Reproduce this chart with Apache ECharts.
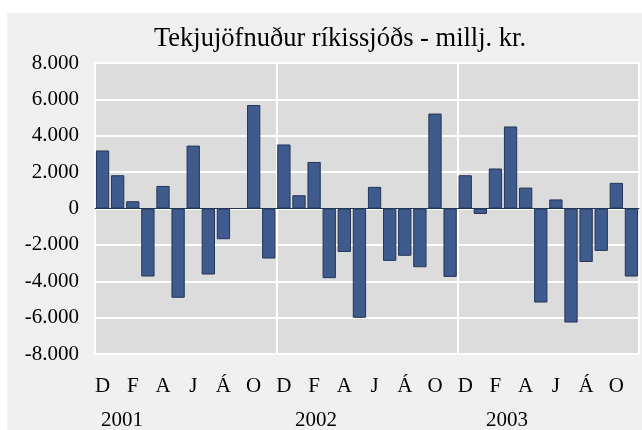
<!DOCTYPE html>
<html>
<head>
<meta charset="utf-8">
<script src="https://cdn.jsdelivr.net/npm/echarts@6/dist/echarts.min.js"></script>
<style>
  html, body { margin: 0; padding: 0; background: #ffffff; }
  #chart { position: absolute; left: 7px; top: 13px; width: 635px; height: 417px; }
</style>
</head>
<body>
<div id="chart"></div>
<script>
// Mánuðir frá desember 2000 til nóvember 2003
var manudir = ['D', 'J', 'F', 'M', 'A', 'M', 'J', 'J', 'Á', 'S', 'O', 'N'];
var categories = [].concat(manudir, manudir, manudir);
var ar = ['2001', '2002', '2003'];

// Tekjujöfnuður, millj. kr.
var gildi = [
  3190, 1830, 400, -3740, 1240, -4910, 3460, -3630, -1690, 0, 5690, -2750,
  3520, 730, 2560, -3830, -2390, -6010, 1190, -2880, -2600, -3230, 5220, -3760,
  1830, -300, 2200, 4510, 1150, -5170, 500, -6270, -2940, -2330, 1410, -3740
];

var yTicks = [-8000, -6000, -4000, -2000, 0, 2000, 4000, 6000, 8000];

var serif = '"Liberation Serif", "Times New Roman", serif';

var formatTala = function (v) {
  var s = Math.abs(v).toString().replace(/\B(?=(\d{3})+(?!\d))/g, '.');
  return (v < 0 ? '-' : '') + s;
};

var getOption = function () {
  return {
    backgroundColor: '#f0f0f0',
    animation: false,
    title: {
      text: 'Tekjujöfnuður ríkissjóðs - millj. kr.',
      left: 142,
      top: 8,
      textStyle: {
        fontFamily: serif,
        fontSize: 26.5,
        fontWeight: 'normal',
        color: '#000000'
      }
    },
    grid: {
      left: 88,
      right: 3,
      top: 50,
      bottom: 76,
      show: true,
      backgroundColor: '#dcdcdc',
      borderColor: '#ffffff',
      borderWidth: 2
    },
    xAxis: {
      type: 'category',
      data: categories,
      axisLine: { show: true, onZero: true, lineStyle: { color: '#243658', width: 1 } },
      axisTick: { show: false },
      axisLabel: {
        interval: 1,
        margin: 22,
        fontFamily: serif,
        fontSize: 21,
        color: '#000000'
      },
      splitLine: {
        show: true,
        interval: 11,
        lineStyle: { color: '#ffffff', width: 2 }
      }
    },
    yAxis: {
      type: 'value',
      min: yTicks[0],
      max: yTicks[yTicks.length - 1],
      interval: 2000,
      axisLine: { show: false },
      axisTick: { show: false },
      axisLabel: {
        margin: 16,
        fontFamily: serif,
        fontSize: 21,
        color: '#000000',
        formatter: formatTala
      },
      splitLine: { lineStyle: { color: '#ffffff', width: 2 } }
    },
    graphic: ar.map(function (a, i) {
      return {
        type: 'text',
        left: [94, 288, 479][i],
        top: 397,
        style: { text: a, font: '21px ' + serif, fill: '#000000' }
      };
    }),
    series: [
      {
        type: 'bar',
        data: gildi,
        barCategoryGap: '12%',
        itemStyle: {
          color: '#3f5a8c',
          borderColor: '#243658',
          borderWidth: 1
        }
      }
    ]
  };
};

var chart = echarts.init(document.getElementById('chart'));
chart.setOption(getOption());
</script>
</body>
</html>
